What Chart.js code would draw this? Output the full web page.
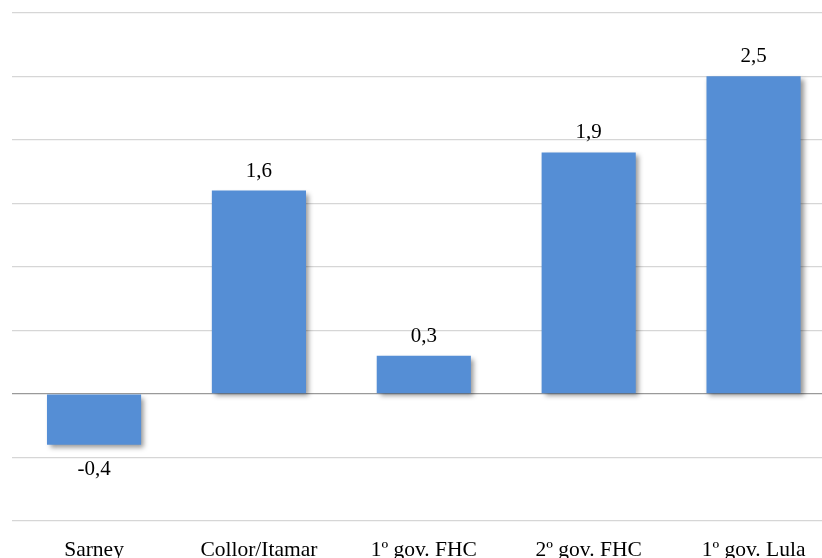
<!DOCTYPE html>
<html>
<head>
<meta charset="utf-8">
<script src="https://cdn.jsdelivr.net/npm/chart.js@4"></script>
<style>
  html, body { margin: 0; padding: 0; background: #fff; overflow: hidden; }
  #wrap { position: absolute; left: 0; top: 0; width: 836px; height: 558px; }
</style>
</head>
<body>
<div id="wrap"><canvas id="c" width="836" height="558"></canvas></div>
<script>
// Governos e variação média
const categories = ['Sarney', 'Collor/Itamar', '1º gov. FHC', '2º gov. FHC', '1º gov. Lula'];
const values = [-0.4, 1.6, 0.3, 1.9, 2.5];
const valueLabels = ['-0,4', '1,6', '0,3', '1,9', '2,5'];

const SERIF = '"Liberation Serif", "Times New Roman", serif';

// Soft drop shadow under the bars
const barShadow = {
  id: 'barShadow',
  beforeDatasetDraw(chart) {
    const ctx = chart.ctx;
    ctx.save();
    ctx.shadowColor = 'rgba(0,0,0,0.42)';
    ctx.shadowBlur = 5;
    ctx.shadowOffsetX = 3;
    ctx.shadowOffsetY = 3;
  },
  afterDatasetDraw(chart) {
    chart.ctx.restore();
  }
};

// Value labels above positive bars, below negative ones
const valueText = {
  id: 'valueText',
  afterDatasetsDraw(chart) {
    const ctx = chart.ctx;
    const meta = chart.getDatasetMeta(0);
    ctx.save();
    ctx.font = '21px ' + SERIF;
    ctx.fillStyle = '#000';
    ctx.textAlign = 'center';
    meta.data.forEach((bar, i) => {
      const v = values[i];
      if (v >= 0) {
        ctx.textBaseline = 'alphabetic';
        ctx.fillText(valueLabels[i], bar.x, bar.y - 14);
      } else {
        ctx.textBaseline = 'alphabetic';
        ctx.fillText(valueLabels[i], bar.x, bar.y + 30);
      }
    });
    ctx.restore();
  }
};

new Chart(document.getElementById('c'), {
  type: 'bar',
  data: {
    labels: categories,
    datasets: [{
      data: values,
      backgroundColor: '#558ed5',
      borderWidth: 0,
      categoryPercentage: 1,
      barPercentage: 0.571
    }]
  },
  options: {
    responsive: false,
    animation: false,
    layout: { padding: { left: 11.6, top: 12.7, right: 0, bottom: 0 } },
    plugins: { legend: { display: false }, tooltip: { enabled: false } },
    scales: {
      x: {
        grid: { display: false, drawTicks: false },
        border: { display: false },
        ticks: {
          color: '#000',
          padding: 16,
          font: { family: SERIF, size: 21.5 }
        },
        afterFit(s) { s.height = 37; }
      },
      y: {
        min: -1,
        max: 3,
        ticks: { display: false, stepSize: 0.5 },
        border: { display: false },
        grid: {
          drawTicks: false,
          lineWidth: 1.3,
          color: (c) => (c.tick && c.tick.value === 0 ? '#9a9a9a' : '#d6d6d6')
        },
        afterFit(s) { s.width = 0; }
      }
    }
  },
  plugins: [barShadow, valueText]
});
</script>
</body>
</html>
